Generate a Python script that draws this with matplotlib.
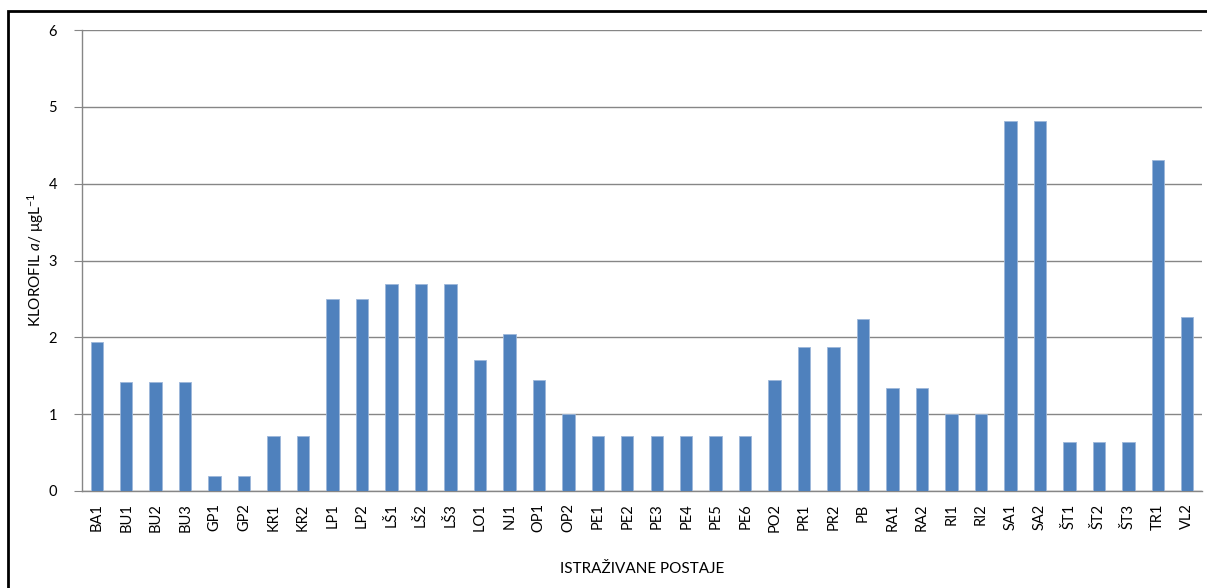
import matplotlib
matplotlib.use("Agg")
import matplotlib.pyplot as plt
from matplotlib.patches import Rectangle

plt.rcParams['font.family'] = ['Lato', 'DejaVu Sans']
plt.rcParams['mathtext.fontset'] = 'custom'
plt.rcParams['mathtext.rm'] = 'Lato'
plt.rcParams['mathtext.it'] = 'Lato:italic'

postaje = ["BA1", "BU1", "BU2", "BU3", "GP1", "GP2", "KR1", "KR2", "LP1", "LP2",
           "LŠ1", "LŠ2", "LŠ3", "LO1", "NJ1", "OP1", "OP2", "PE1", "PE2", "PE3",
           "PE4", "PE5", "PE6", "PO2", "PR1", "PR2", "PB", "RA1", "RA2", "RI1",
           "RI2", "SA1", "SA2", "ŠT1", "ŠT2", "ŠT3", "TR1", "VL2"]
klorofil = [1.94, 1.42, 1.42, 1.42, 0.2, 0.2, 0.72, 0.72, 2.5, 2.5,
            2.7, 2.7, 2.7, 1.71, 2.04, 1.44, 1.0, 0.72, 0.72, 0.72,
            0.72, 0.72, 0.72, 1.44, 1.88, 1.88, 2.24, 1.34, 1.34, 1.0,
            1.0, 4.81, 4.81, 0.64, 0.64, 0.64, 4.31, 2.27]
y_ticks = [0, 1, 2, 3, 4, 5, 6]

fig = plt.figure(figsize=(12.07, 5.88), dpi=100)
ax = fig.add_axes([82 / 1207, 1 - 491 / 588, 1120 / 1207, 461 / 588])

x = range(len(postaje))
ax.bar(x, klorofil, width=0.42, color="#4F81BD", edgecolor="#9DB7DA", linewidth=0.6, zorder=3)

ax.set_xlim(-0.5, len(postaje) - 0.5)
ax.set_ylim(0, 6)
ax.set_yticks(y_ticks)
ax.set_xticks(list(x))
ax.set_xticklabels(postaje, rotation=90, fontsize=10.5)
ax.tick_params(axis='y', labelsize=10.5, length=6, color="#868686", pad=12)
ax.tick_params(axis='x', length=0, pad=9)
ax.grid(axis='y', color="#868686", linewidth=1.0, zorder=0)

for s in ["top", "right"]:
    ax.spines[s].set_visible(False)
for s in ["left", "bottom"]:
    ax.spines[s].set_color("#868686")
    ax.spines[s].set_linewidth(1.0)

ax.set_xlabel("ISTRAŽIVANE POSTAJE", fontsize=11, labelpad=21)
ax.set_ylabel("KLOROFIL $\\mathit{a}$/ μgL$^{-1}$", fontsize=11, labelpad=2)

fig.patches.append(Rectangle((8 / 1207, -0.1), 1.2, 1 - 11 / 588 + 0.1,
                             transform=fig.transFigure, fill=False,
                             edgecolor="black", linewidth=2.0))

fig.savefig("out.png", dpi=100)
